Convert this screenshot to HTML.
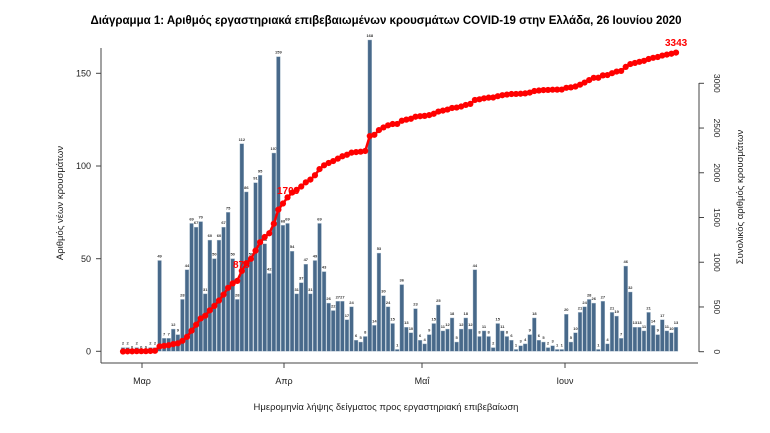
<!DOCTYPE html>
<html><head><meta charset="utf-8">
<style>
html,body{margin:0;padding:0;background:#fff;}
svg{display:block;font-family:"Liberation Sans","DejaVu Sans",sans-serif;}
</style></head>
<body>
<svg id="c" width="770" height="433" viewBox="0 0 770 433" xmlns="http://www.w3.org/2000/svg">
<text x="386" y="24" text-anchor="middle" font-size="11.5" font-weight="bold" fill="#000">Διάγραμμα 1: Αριθμός εργαστηριακά επιβεβαιωμένων κρουσμάτων COVID-19 στην Ελλάδα, 26 Ιουνίου 2020</text>
<g stroke="#444" stroke-width="1" fill="none">
<line x1="101" y1="48" x2="101" y2="363"/>
<line x1="101" y1="363" x2="698" y2="363"/>
<line x1="699" y1="83" x2="699" y2="352"/>
<line x1="96" y1="73.3" x2="101" y2="73.3"/>
<line x1="96" y1="166" x2="101" y2="166"/>
<line x1="96" y1="258.7" x2="101" y2="258.7"/>
<line x1="96" y1="351.3" x2="101" y2="351.3"/>
<line x1="142" y1="363" x2="142" y2="368"/>
<line x1="284" y1="363" x2="284" y2="368"/>
<line x1="422" y1="363" x2="422" y2="368"/>
<line x1="565" y1="363" x2="565" y2="368"/>
</g>
<g font-size="9" fill="#222" text-anchor="end">
<text x="91" y="76.5">150</text><text x="91" y="169">100</text><text x="91" y="262">50</text><text x="91" y="354.5">0</text>
</g>
<g font-size="9" fill="#222" text-anchor="middle">
<text x="142" y="384">Μαρ</text><text x="284" y="384">Απρ</text><text x="422" y="384">Μαΐ</text><text x="565" y="384">Ιουν</text>
</g>
<text x="386" y="410" text-anchor="middle" font-size="9.5" fill="#222">Ημερομηνία λήψης δείγματος προς εργαστηριακή επιβεβαίωση</text>
<text transform="translate(63,203) rotate(-90)" text-anchor="middle" font-size="9.5" fill="#222">Αριθμός νέων κρουσμάτων</text>
<text transform="translate(743,197) rotate(-90)" text-anchor="middle" font-size="9.5" fill="#222">Συνολικός αριθμός κρουσμάτων</text>
<g id="rt" font-size="8.5" fill="#222"></g>
<g id="bars"></g>
<g id="line"></g>
</svg>
<script>
var v=[2,2,0,2,0,0,2,2,49,7,7,12,9,28,44,69,67,70,31,60,50,60,67,75,50,28,112,86,50,91,95,58,42,107,159,68,69,54,31,37,47,31,49,69,43,26,22,27,27,17,24,6,5,8,168,14,
53,30,24,15,1,36,13,10,23,6,4,9,15,25,11,12,18,5,12,18,12,44,8,11,8,2,15,11,8,6,1,3,4,9,18,6,5,2,3,1,1,20,5,10,21,24,28,26,1,27,4,21,19,7,46,32,13,13,11,21,14,9,17,11,10,13];
var NS="http://www.w3.org/2000/svg";
function el(t,a,p,txt){var e=document.createElementNS(NS,t);for(var k in a)e.setAttribute(k,a[k]);if(txt!==undefined)e.textContent=txt;p.appendChild(e);return e;}
var rt=document.getElementById('rt');
for(var i=0;i<=6;i++){var y=351.7-i*500*268.4/3000;
 el('line',{x1:699,y1:y,x2:704,y2:y,stroke:'#444'},rt);
 el('text',{transform:'translate(714,'+y+') rotate(90)','text-anchor':'middle'},rt,String(i*500));}
var n=v.length,x0=123,x1=676,dx=(x1-x0)/(n-1),y0=351.3,s=1.853;
var B=document.getElementById('bars');
var cum=[],c=0;for(i=0;i<n;i++){c+=v[i];cum.push(c);}
for(i=0;i<n;i++){var x=x0+i*dx,h=v[i]*s;
 el('rect',{x:x-1.9,y:y0-h,width:3.8,height:h,fill:'#48698a',stroke:'#a9bccc','stroke-width':0.4},B);
 el('text',{x:x,y:y0-h-3,'font-size':4,'font-weight':'bold','text-anchor':'middle',fill:'#333'},B,String(v[i]));}
var L=document.getElementById('line'),pts=[];
for(i=0;i<n;i++){var x=x0+i*dx,cv=cum[i]*(1-(1-3343/c)*i/(n-1)),y=351.7-cv*268.4/3000;pts.push(x+','+y);}
el('polyline',{points:pts.join(' '),fill:'none',stroke:'#ff0000','stroke-width':2.5},L);
for(i=0;i<n;i++){var p=pts[i].split(',');el('circle',{cx:p[0],cy:p[1],r:3.1,fill:'#ff0000'},L);}
el('text',{x:233,y:268,'font-size':10,'font-weight':'bold',fill:'#ff0000'},L,'878');
el('text',{x:277,y:194,'font-size':10,'font-weight':'bold',fill:'#ff0000'},L,'1703');
el('text',{x:665,y:46,'font-size':10,'font-weight':'bold',fill:'#ff0000'},L,'3343');
</script>
</body></html>
